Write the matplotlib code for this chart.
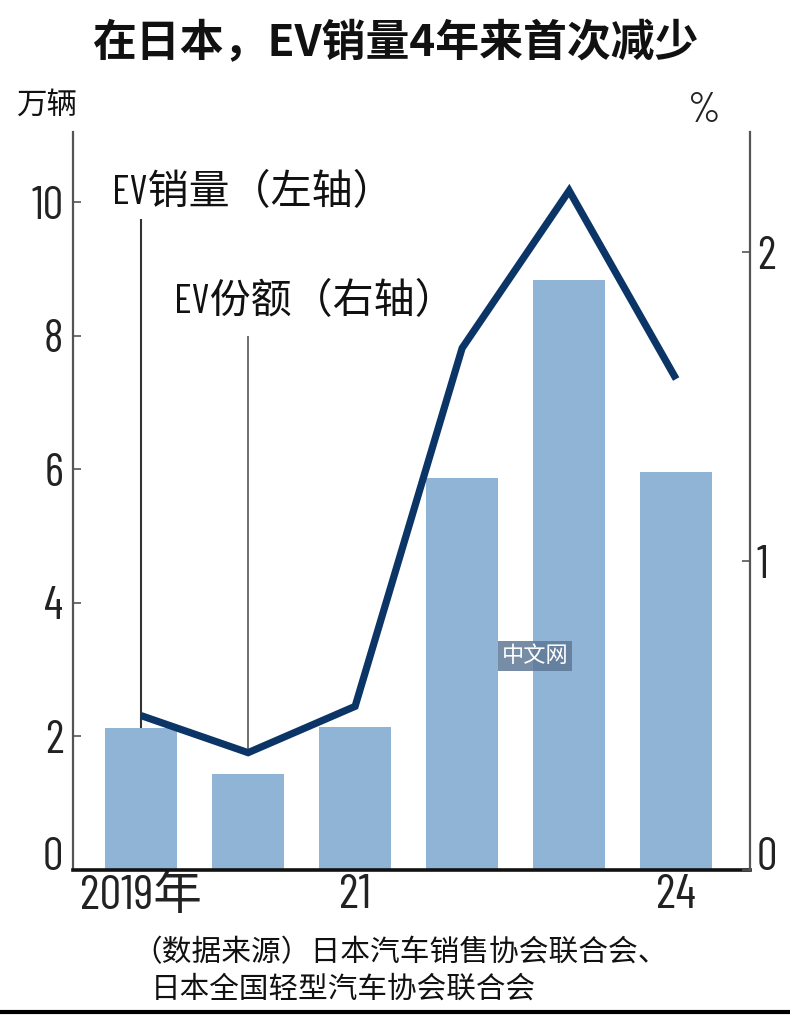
import matplotlib
matplotlib.use("Agg")
import matplotlib.pyplot as plt
from matplotlib import font_manager as fm

# ---------------- data ----------------
years = [2019, 2020, 2021, 2022, 2023, 2024]
xtick_labels = ["2019年", "", "21", "", "", "24"]
ev_sales = [2.12, 1.44, 2.14, 5.87, 8.83, 5.96]     # 万辆 (left axis)
ev_share = [0.50, 0.38, 0.53, 1.69, 2.20, 1.59]     # % (right axis)
left_ticks = [0, 2, 4, 6, 8, 10]
right_ticks = [0, 1, 2]

title = "在日本，EV销量4年来首次减少"
left_unit = "万辆"
right_unit = "%"
label_sales = "EV销量（左轴）"
label_share = "EV份额（右轴）"
source_1 = "（数据来源）日本汽车销售协会联合会、"
source_2 = "日本全国轻型汽车协会联合会"

# ---------------- fonts ----------------
names = {f.name for f in fm.fontManager.ttflist}
cands = ["Barlow Condensed", "Sofia Sans Condensed", "Fira Sans Extra Condensed",
         "Roboto Condensed", "Liberation Sans Narrow", "Liberation Sans"]
narrow = next((c for c in cands if c in names), "DejaVu Sans")
CJK = "Noto Sans CJK SC"
plt.rcParams["font.family"] = [CJK, "DejaVu Sans"]
num_family = [narrow, CJK]

BAR = "#8fb4d6"
LINE = "#0b3566"
GRAY = "#555555"

fig = plt.figure(figsize=(7.9, 10.15), dpi=100)
ax = fig.add_axes([73 / 790, 1 - 870 / 1015, (750 - 73) / 790, (870 - 132) / 1015])
ax2 = ax.twinx()

x = list(range(len(years)))
ax.bar(x, ev_sales, width=0.67, color=BAR, zorder=2)
ax2.plot(x, ev_share, color=LINE, lw=5.2, solid_joinstyle="miter",
         solid_capstyle="butt", zorder=5)

ax.set_xlim(-0.636, 5.69)
ax.set_ylim(0, 11.05)
ax2.set_ylim(0, 2.39)

# leader lines
ax.vlines(x[0], ev_sales[0], 9.75, color="#333333", lw=1.5, zorder=3)
ax2.vlines(x[1], ev_share[1], 1.73, color="#555555", lw=1.2, zorder=3)

ax.text(-0.27, 10.15, label_sales, fontsize=29.5, va="center", ha="left",
        family=num_family, color="#111111")
ax.text(0.31, 8.51, label_share, fontsize=29.5, va="center", ha="left",
        family=num_family, color="#111111")

# spines
for a in (ax, ax2):
    a.spines["top"].set_visible(False)
ax2.spines["left"].set_visible(False)
ax2.spines["bottom"].set_visible(False)
ax.spines["right"].set_visible(False)
ax.spines["left"].set_color(GRAY)
ax.spines["left"].set_linewidth(1.6)
ax2.spines["right"].set_color(GRAY)
ax2.spines["right"].set_linewidth(1.6)
ax.spines["bottom"].set_color("#111111")
ax.spines["bottom"].set_linewidth(2.6)

# ticks
ax.set_xticks(x)
ax.set_xticklabels(xtick_labels, family=num_family, fontsize=35, color="#222222")
ax.tick_params(axis="x", length=0, pad=3)

ax.set_yticks(left_ticks)
ax.set_yticklabels([str(t) for t in left_ticks], family=num_family, fontsize=33,
                   color="#222222")
ax.tick_params(axis="y", direction="in", length=6, width=1.2, color=GRAY, pad=7)

ax2.set_yticks(right_ticks)
ax2.set_yticklabels([str(t) for t in right_ticks], family=num_family, fontsize=33,
                    color="#222222")
ax2.tick_params(axis="y", direction="in", length=6, width=1.2, color=GRAY, pad=5)

for lab in (ax.get_yticklabels()[0], ax2.get_yticklabels()[0]):
    lab.set_verticalalignment("baseline")

# titles / units
fig.text(0.5, 1 - 43 / 1015, title, fontsize=31.6, fontweight="bold",
         ha="center", va="center", color="#111111")
fig.text(47 / 790, 1 - 105 / 1015, left_unit, fontsize=22, ha="center",
         va="center", color="#111111")
fig.text(704 / 790, 1 - 112 / 1015, right_unit, fontsize=30, ha="center",
         va="center", family=num_family, color="#222222")

# source
fig.text(132 / 790, 1 - 953 / 1015, source_1, fontsize=21.4, ha="left",
         va="center", color="#111111")
fig.text(151 / 790, 1 - 989 / 1015, source_2, fontsize=21.3, ha="left",
         va="center", color="#111111")

# watermark
fig.text(535 / 790, 1 - 656 / 1015, "中文网", fontsize=16, ha="center",
         va="center", color="white",
         bbox=dict(boxstyle="square,pad=0.15", fc="#5f7896", ec="none", alpha=0.85))

# bottom border rule
fig.add_artist(plt.Line2D([0, 1], [1 - 1012 / 1015] * 2, color="black", lw=3,
                          transform=fig.transFigure))

fig.savefig("out.png", dpi=100)
